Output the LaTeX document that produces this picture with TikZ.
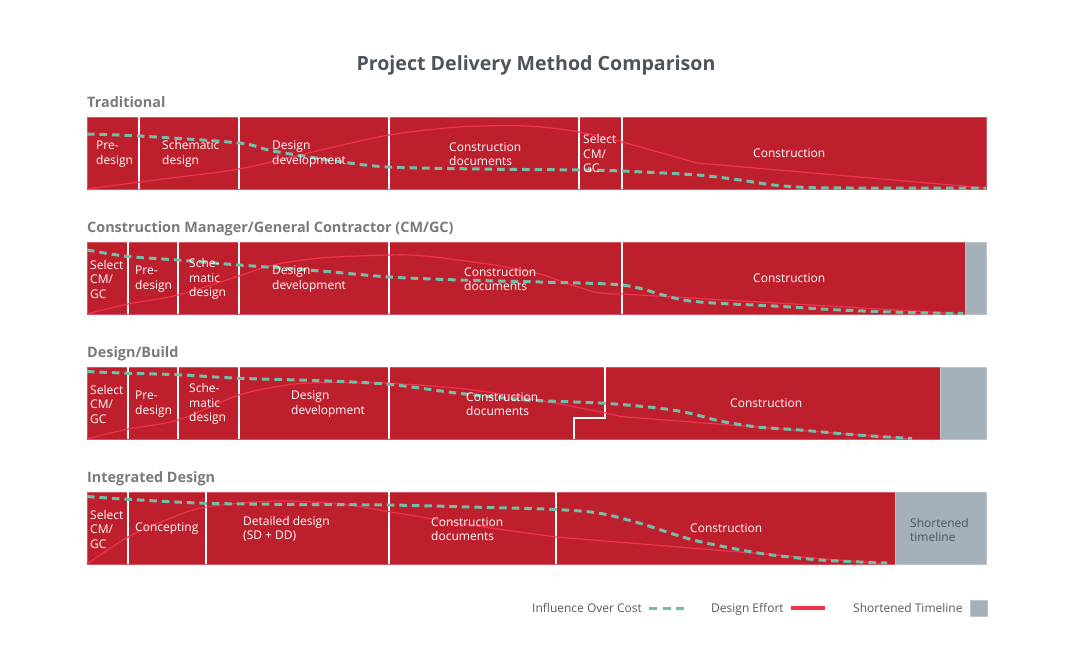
\documentclass[tikz,border=0pt]{standalone}
\usepackage{fontspec}
\setmainfont{Open Sans}
\usepackage{tikz}
\definecolor{barred}{RGB}{190,31,45}
\definecolor{effortred}{RGB}{239,51,77}
\definecolor{costteal}{RGB}{114,190,168}
\definecolor{sparegray}{RGB}{164,177,186}
\definecolor{titlegray}{RGB}{77,84,91}
\definecolor{headgray}{RGB}{120,122,125}
\definecolor{keygray}{RGB}{88,89,91}
\newcommand{\phasefont}{\fontsize{12}{14.5}\selectfont}
\newcommand{\ph}[4]{\node[phase] (#1) at (#2,#3) {#4};}
\tikzset{
  bar/.style={fill=barred, draw=barred!75!white, line width=0.8pt},
  spare/.style={fill=sparegray, draw=sparegray!75!white, line width=0.8pt},
  split/.style={draw=white, line width=1.3pt},
  effort/.style={draw=effortred, line width=1.2pt},
  influence/.style={draw=costteal, line width=3pt, dash pattern=on 7.5pt off 5pt},
  phase/.style={text=white, font=\phasefont, align=left, anchor=west, inner sep=0pt},
  head/.style={text=headgray, font=\bfseries\fontsize{14.4}{16}\selectfont, anchor=base west, inner sep=0pt},
  key/.style={text=keygray, font=\fontsize{12}{13}\selectfont, anchor=base west, inner sep=0pt}
}
\begin{document}
\begin{tikzpicture}[x=1pt,y=-1pt]
\useasboundingbox (0,0) rectangle (1074,672);
\node[text=titlegray, font=\bfseries\fontsize{19.6}{22}\selectfont, anchor=base, inner sep=0pt] (title) at (536,70) {Project Delivery Method Comparison};

% Traditional
\node[head] (trad) at (87,107) {Traditional};
\draw[bar] (87,117) rectangle (986,189);
\foreach \x in {139,239,389,579,622} \draw[split] (\x,117) -- (\x,189);
\draw[effort] plot[smooth,tension=0.5] coordinates {(87,189) (163,179) (239,169) (321,150) (389,135) (459,127) (528,126) (579,132) (622,142) (697,163)} -- (986,188);
\draw[influence] plot[smooth,tension=0.5] coordinates {(87,134) (139,136) (239,143) (273,151) (342,162) (389,167) (480,169) (579,170) (622,171) (697,175) (740,180) (773,185) (807,187.5) (850,188) (986,188)};
\ph{tpre}{96}{154}{Pre-\\design}
\ph{tsd}{162}{154}{Schematic\\design}
\ph{tdd}{272}{154}{Design\\development}
\ph{tcd}{449}{154}{Construction\\documents}
\ph{tsel}{583}{153.5}{Select\\CM/\\GC}
\ph{tcon}{753}{153.5}{Construction}

% CM/GC
\node[head] (cmgc) at (87,232) {Construction Manager/General Contractor (CM/GC)};
\draw[bar] (87,242) rectangle (965,314);
\draw[spare] (965,242) rectangle (986,314);
\foreach \x in {128,178,239,389,622} \draw[split] (\x,242) -- (\x,314);
\draw[effort] plot[smooth,tension=0.5] coordinates {(87,314) (128,304) (178,295) (239,276) (273,265) (321,258) (389,255) (425,256) (494,265) (540,274) (563,282) (597,292.5) (622,294)} -- (965,314);
\draw[influence] plot[smooth,tension=0.5] coordinates {(87,250) (128,256.5) (178,260) (239,265) (321,271) (389,277) (460,280) (540,282) (622,285) (663,295) (683,300) (713,303) (773,306) (840,310) (907,312.5) (963,313.5)};
\ph{csel}{90}{279}{Select\\CM/\\GC}
\ph{cpre}{135}{279}{Pre-\\design}
\ph{csd}{189}{279}{Sche-\\matic\\design}
\ph{cdd}{272}{279}{Design\\development}
\ph{ccd}{464}{279}{Construction\\documents}
\ph{ccon}{753}{278.5}{Construction}

% Design/Build
\node[head] (db) at (87,357) {Design/Build};
\draw[bar] (87,367) rectangle (940,439);
\draw[spare] (940,367) rectangle (986,439);
\foreach \x in {128,178,239,389} \draw[split] (\x,367) -- (\x,439);
\draw[split] (605,367) -- (605,418) -- (574,418) -- (574,439);
\draw[effort] plot[smooth,tension=0.5] coordinates {(87,439) (128,429) (178,420) (239,395) (287,385) (321,382.7) (389,383.3) (459,388.3) (528,398.3) (606,413) (620,416.5)} -- (912,439);
\draw[influence] plot[smooth,tension=0.5] coordinates {(87,371.5) (128,373.3) (178,374.7) (239,378.3) (321,380.7) (389,384.3) (459,393.3) (528,400) (605,403.3) (660,408.3) (690,413.3) (720,421) (757,427) (800,430) (857,435) (912,438.5)};
\ph{dsel}{90}{404}{Select\\CM/\\GC}
\ph{dpre}{135}{404}{Pre-\\design}
\ph{dsd}{189}{404}{Sche-\\matic\\design}
\ph{ddd}{291}{404}{Design\\development}
\ph{dcd}{466}{404}{Construction\\documents}
\ph{dcon}{730}{403.5}{Construction}

% Integrated Design
\node[head] (ipd) at (87,482) {Integrated Design};
\draw[bar] (87,492) rectangle (895,564);
\draw[spare] (895,492) rectangle (986,564);
\foreach \x in {128,206,389,556} \draw[split] (\x,492) -- (\x,564);
\draw[effort] plot[smooth,tension=0.5] coordinates {(87,564) (128,537) (166,520) (206,507) (277,501) (340,504) (389,511.7) (470,525) (556,537)} -- (887,564);
\draw[influence] plot[smooth,tension=0.5] coordinates {(87,496.5) (128,499.3) (206,503.3) (300,504.5) (389,505) (470,507) (556,509.5) (600,513.3) (640,523.3) (670,533) (700,541.7) (760,553.3) (820,560) (887,563)};
\ph{isel}{90}{529}{Select\\CM/\\GC}
\ph{icon1}{135}{528.5}{Concepting}
\ph{idet}{243}{529}{Detailed design\\(SD + DD)}
\ph{icd}{431}{529}{Construction\\documents}
\ph{icon}{690}{528.5}{Construction}
\node[phase, text=titlegray] (ishort) at (910,530) {Shortened\\timeline};

% key
\node[key] (kcost) at (532,612) {Influence Over Cost};
\coordinate (kc1) at (649,608);
\coordinate (kc2) at (684,608);
\draw[influence, dash pattern=on 8pt off 5.5pt] (kc1) -- (kc2);
\node[key] (keff) at (711,612) {Design Effort};
\coordinate (ke1) at (791,608);
\coordinate (ke2) at (825,608);
\draw[effort, line width=3.3pt] (ke1) -- (ke2);
\node[key] (kshort) at (853,612) {Shortened Timeline};
\draw[spare] (970,600) rectangle (987,616);
\end{tikzpicture}
\end{document}
